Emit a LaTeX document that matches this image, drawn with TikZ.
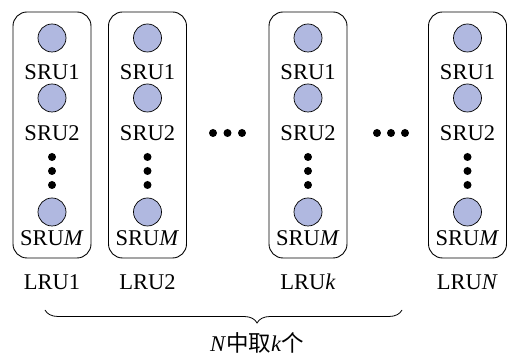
\documentclass[tikz,border=0pt]{standalone}
\usepackage{fontspec}
\setmainfont{Liberation Serif}
\newfontfamily\cjk{Noto Sans CJK SC}
\usetikzlibrary{decorations.pathreplacing}
\definecolor{srublue}{RGB}{176,184,224}

\begin{document}
\begin{tikzpicture}[x=1pt, y=1pt]
\path [use as bounding box] (0,0) rectangle (507,361);
\tikzstyle{lru} = [draw, rounded corners=14pt, line width=0.9pt, minimum width=78pt, minimum height=246pt]
\tikzstyle{sru} = [circle, draw, fill=srublue, line width=0.7pt, inner sep=0pt, minimum size=28pt]
\tikzstyle{bullet} = [circle, fill, inner sep=0pt, minimum size=8pt]
\tikzstyle{lbl} = [inner sep=0pt, font=\fontsize{22.5}{24}\selectfont]
% one LRU column per entry: x of centre / name / index
\foreach \cx/\n/\idx in {52/1/1, 147.5/2/2, 308/k/\textit{k}, 467.5/N/\textit{N}} {
	\node[lru] (box\n) at (\cx,226) {};
	\node[sru] (a\n) at (\cx,323) {};
	\node[lbl] (ta\n) at (\cx,289) {SRU1};
	\node[sru] (b\n) at (\cx,263) {};
	\node[lbl] (tb\n) at (\cx,228) {SRU2};
	\node[bullet] (da\n) at (\cx,204) {};
	\node[bullet] (db\n) at (\cx,190) {};
	\node[bullet] (dc\n) at (\cx,176) {};
	\node[sru] (m\n) at (\cx,149) {};
	\node[lbl] (tm\n) at (\cx,123) {SRU\textit{M}};
	\node[lbl] (lru\n) at (\cx,79) {LRU\idx};
}
% dots between the columns
\foreach \x [count=\i] in {213,227.5,242,377,391,405}
	\node[bullet] (h\i) at (\x,228) {};
% choice brace
\coordinate (bl) at (45,51);
\coordinate (br) at (402,51);
\draw[line width=0.8pt, decorate, decoration={brace, mirror, amplitude=13pt, aspect=0.594}] (bl) -- (br);
\node[lbl] (pick) at (257,18) {\textit{N}{\cjk 中取}\textit{k}{\cjk 个}};
\end{tikzpicture}
\end{document}
